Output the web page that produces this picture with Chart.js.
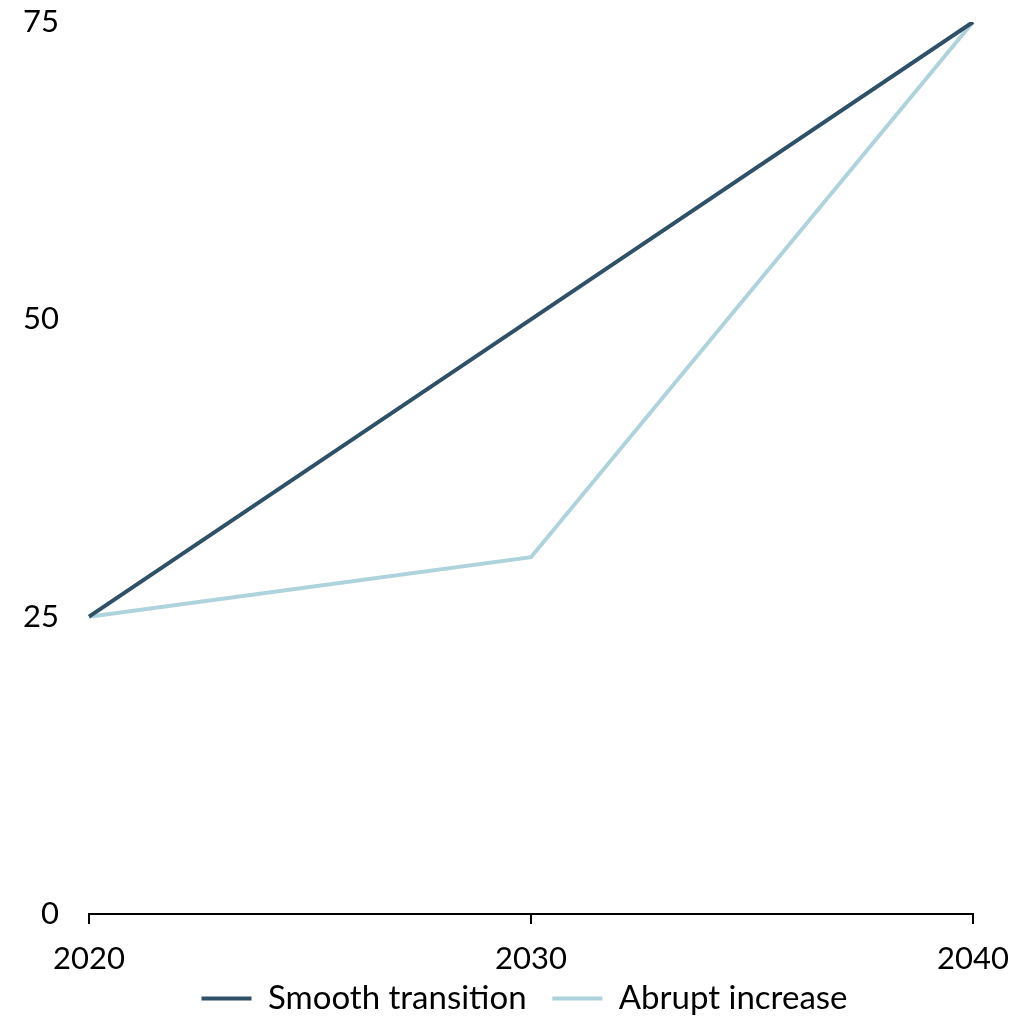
<!DOCTYPE html>
<html>
<head>
<meta charset="utf-8">
<script src="https://cdn.jsdelivr.net/npm/chart.js@4/dist/chart.umd.min.js"></script>
<style>
  html, body { margin: 0; padding: 0; background: #fff; }
  #wrap { width: 1030px; height: 1016px; }
</style>
</head>
<body>
<div id="wrap"><canvas id="c"></canvas></div>
<script>
const years = ['2020', '2030', '2040'];
const smoothTransition = [25, 50, 75];
const abruptIncrease = [25, 30, 75];
const yTicks = [0, 25, 50, 75];

const FONT = "Lato, 'DejaVu Sans', sans-serif";
const FS = 31;
const LFS = 33;

const legendShift = {
  id: 'legendShift',
  afterLayout(chart) {
    if (chart.legend) { chart.legend.left = 76; }
  }
};

new Chart(document.getElementById('c'), {
  type: 'line',
  data: {
    labels: years,
    datasets: [
      { label: 'Smooth transition', data: smoothTransition, borderColor: '#2e5168', backgroundColor: '#2e5168', borderWidth: 4, pointRadius: 0, tension: 0 },
      { label: 'Abrupt increase', data: abruptIncrease, borderColor: '#aed3dd', backgroundColor: '#aed3dd', borderWidth: 4, pointRadius: 0, tension: 0 }
    ]
  },
  plugins: [legendShift],
  options: {
    responsive: true,
    maintainAspectRatio: false,
    animation: false,
    layout: { padding: { top: 22, right: 57, left: 0, bottom: -9 } },
    plugins: {
      tooltip: { enabled: false },
      legend: {
        position: 'bottom',
        labels: {
          font: { family: FONT, size: LFS },
          color: '#000',
          usePointStyle: true,
          pointStyle: 'line',
          pointStyleWidth: 50,
          boxWidth: 50,
          padding: 1,
          generateLabels: (chart) => {
            const items = Chart.defaults.plugins.legend.labels.generateLabels(chart);
            items.forEach((it, i) => { it.lineWidth = 4; if (i === 0) it.text = it.text + '\u2003'; });
            return items;
          }
        }
      }
    },
    scales: {
      x: {
        type: 'category',
        offset: false,
        grid: { display: true, drawOnChartArea: false, drawTicks: true, tickLength: 10, color: '#000', lineWidth: 2 },
        border: { display: true, color: '#000', width: 2 },
        ticks: { font: { family: FONT, size: FS }, color: '#000', padding: 16, maxRotation: 0 },
        afterFit: (s) => { s.height = 67; }
      },
      y: {
        min: 0, max: 75,
        afterBuildTicks: (s) => { s.ticks = yTicks.map(v => ({ value: v })); },
        grid: { display: false },
        border: { display: false },
        ticks: { font: { family: FONT, size: FS }, color: '#000', padding: 22 },
        afterFit: (s) => { s.width = 89; s.paddingTop = 0; s.paddingBottom = 0; }
      }
    }
  }
});
</script>
</body>
</html>
